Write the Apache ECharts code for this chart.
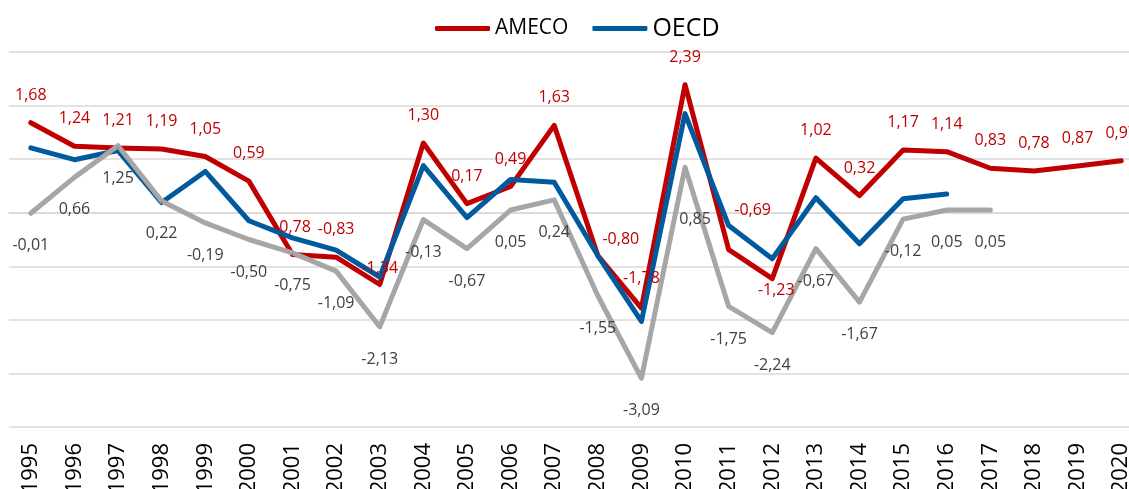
<!DOCTYPE html>
<html>
<head>
<meta charset="utf-8">
<script src="https://cdn.jsdelivr.net/npm/echarts@6/dist/echarts.min.js"></script>
<style>
  html, body { margin: 0; padding: 0; background: #fff; }
  #chart { width: 1129px; height: 489px; }
</style>
</head>
<body>
<div id="chart"></div>
<script>
// years on the x axis
const years = ['1995','1996','1997','1998','1999','2000','2001','2002','2003','2004','2005','2006','2007',
  '2008','2009','2010','2011','2012','2013','2014','2015','2016','2017','2018','2019','2020'];

// AMECO (labelled values)
const ameco = [1.68, 1.24, 1.21, 1.19, 1.05, 0.59, -0.78, -0.83, -1.34, 1.30, 0.17, 0.49, 1.63,
  -0.80, -1.78, 2.39, -0.69, -1.23, 1.02, 0.32, 1.17, 1.14, 0.83, 0.78, 0.87, 0.97];

// OECD (no labels)
const oecd = [1.21, 0.99, 1.16, 0.19, 0.77, -0.15, -0.47, -0.70, -1.20, 0.88, -0.09, 0.62, 0.57,
  -0.80, -2.03, 1.85, -0.24, -0.86, 0.28, -0.58, 0.26, 0.35, null, null, null, null];

// third series (grey, not in the legend)
const grey = [-0.01, 0.66, 1.25, 0.22, -0.19, -0.50, -0.75, -1.09, -2.13, -0.13, -0.67, 0.05, 0.24,
  -1.55, -3.09, 0.85, -1.75, -2.24, -0.67, -1.67, -0.12, 0.05, 0.05, null, null, null];

// label nudges so they sit where the original has them
const amecoLabelOffset = { 8: [0, 11], 13: [23, 11], 14: [0, -2], 16: [24, -12], 17: [4, 39] };
const greyLabelOffset = { 15: [10, 20] };

const fmt = v => v.toFixed(2).replace('.', ',');

function withLabels(values, offsets) {
  return values.map((v, i) => {
    if (v == null) return null;
    if (offsets[i]) return { value: v, label: { offset: offsets[i] } };
    return v;
  });
}

const chart = echarts.init(document.getElementById('chart'));

const lineBase = {
  type: 'line',
  symbol: 'circle',
  symbolSize: 1,
  showSymbol: true,
  connectNulls: false,
  emphasis: { disabled: true },
};

chart.setOption({
  animation: false,
  textStyle: { fontFamily: 'Open Sans' },
  legend: {
    left: 430,
    top: 11,
    itemWidth: 55,
    itemHeight: 5,
    itemGap: 24,
    icon: 'roundRect',
    data: [
      { name: 'AMECO', textStyle: { fontSize: 21, color: '#000' } },
      { name: 'OECD', textStyle: { fontSize: 25, color: '#000' } }
    ]
  },
  // plot runs a little past the right edge, like the original (last label is clipped)
  grid: { left: 9, width: 1134, top: 52, bottom: 62, outerBoundsMode: 'none', containLabel: false },
  xAxis: {
    type: 'category',
    data: years,
    boundaryGap: true,
    axisLine: { lineStyle: { color: '#D9D9D9', width: 1.5 } },
    axisTick: { show: false },
    axisLabel: { rotate: 90, fontSize: 22, color: '#000', margin: 16, fontFamily: 'Open Sans' }
  },
  yAxis: {
    type: 'value',
    min: -4,
    max: 3,
    interval: 1,
    axisLabel: { show: false },
    axisLine: { show: false },
    axisTick: { show: false },
    splitLine: { lineStyle: { color: '#D9D9D9', width: 1.5 } }
  },
  series: [
    Object.assign({}, lineBase, {
      name: 'AMECO',
      data: withLabels(ameco, amecoLabelOffset),
      itemStyle: { color: '#C00000' },
      lineStyle: { color: '#C00000', width: 5, cap: 'round', join: 'round' },
      label: {
        show: true, position: 'top', distance: 19,
        fontSize: 16, color: '#C00000', fontFamily: 'Open Sans',
        formatter: p => fmt(p.value)
      }
    }),
    Object.assign({}, lineBase, {
      name: 'OECD',
      data: oecd,
      itemStyle: { color: '#005A9E' },
      lineStyle: { color: '#005A9E', width: 5, cap: 'round', join: 'round' },
      label: { show: false }
    }),
    Object.assign({}, lineBase, {
      name: 'grey',
      data: withLabels(grey, greyLabelOffset),
      itemStyle: { color: '#A6A6A6' },
      lineStyle: { color: '#A6A6A6', width: 5, cap: 'round', join: 'round' },
      label: {
        show: true, position: 'bottom', distance: 24,
        fontSize: 16, color: '#404040', fontFamily: 'Open Sans',
        formatter: p => fmt(p.value)
      }
    })
  ]
});
</script>
</body>
</html>
